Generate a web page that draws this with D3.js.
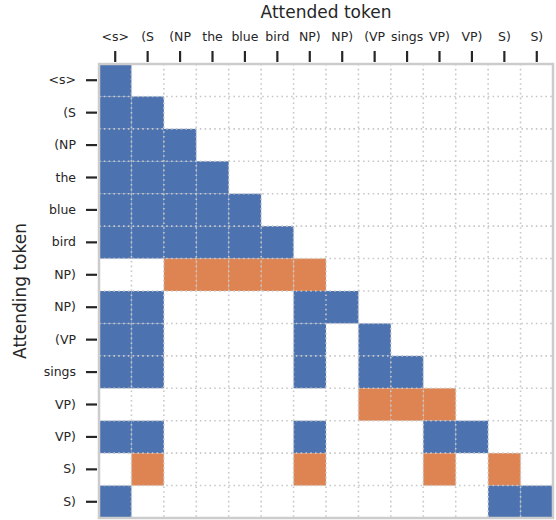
<!DOCTYPE html>
<html>
<head>
<meta charset="utf-8">
<script src="https://cdn.jsdelivr.net/npm/d3@7"></script>
<style>
  body { margin: 0; background: #fff; }
  text { font-family: "DejaVu Sans", sans-serif; }
</style>
</head>
<body>
<div id="chart"></div>
<script>
const tokens = ['<s>', '(S', '(NP', 'the', 'blue', 'bird', 'NP)', 'NP)', '(VP', 'sings', 'VP)', 'VP)', 'S)', 'S)'];

// 0 = none, 1 = blue (attend), 2 = orange (compose)
const attention = [
  [1,0,0,0,0,0,0,0,0,0,0,0,0,0],
  [1,1,0,0,0,0,0,0,0,0,0,0,0,0],
  [1,1,1,0,0,0,0,0,0,0,0,0,0,0],
  [1,1,1,1,0,0,0,0,0,0,0,0,0,0],
  [1,1,1,1,1,0,0,0,0,0,0,0,0,0],
  [1,1,1,1,1,1,0,0,0,0,0,0,0,0],
  [0,0,2,2,2,2,2,0,0,0,0,0,0,0],
  [1,1,0,0,0,0,1,1,0,0,0,0,0,0],
  [1,1,0,0,0,0,1,0,1,0,0,0,0,0],
  [1,1,0,0,0,0,1,0,1,1,0,0,0,0],
  [0,0,0,0,0,0,0,0,2,2,2,0,0,0],
  [1,1,0,0,0,0,1,0,0,0,1,1,0,0],
  [0,2,0,0,0,0,2,0,0,0,2,0,2,0],
  [1,0,0,0,0,0,0,0,0,0,0,0,1,1]
];

const colors = ['none', '#4c72b0', '#dd8452'];

const dimensions = {
  width: 556,
  height: 520,
  margin: { top: 64, right: 3, bottom: 2, left: 99 },
};
const innerW = dimensions.width - dimensions.margin.left - dimensions.margin.right;
const innerH = dimensions.height - dimensions.margin.top - dimensions.margin.bottom;

const idx = d3.range(tokens.length);
const x = d3.scaleBand().domain(idx).range([0, innerW]);
const y = d3.scaleBand().domain(idx).range([0, innerH]);

const svg = d3.select('#chart')
  .append('svg')
  .attr('width', dimensions.width)
  .attr('height', dimensions.height);

const g = svg.append('g')
  .attr('transform', `translate(${dimensions.margin.left}, ${dimensions.margin.top})`);

const cells = attention.flatMap((row, i) => row.map((v, j) => ({ i, j, v })))
  .filter(d => d.v > 0);

g.selectAll('rect.cell')
  .data(cells)
  .join('rect')
  .attr('class', 'cell')
  .attr('x', d => x(d.j))
  .attr('y', d => y(d.i))
  .attr('width', x.bandwidth())
  .attr('height', y.bandwidth())
  .attr('fill', d => colors[d.v]);

// dotted grid on cell boundaries
const grid = g.append('g')
  .attr('stroke', '#c8c8c8')
  .attr('stroke-width', 1.6)
  .attr('stroke-dasharray', '1.6,3.2');

grid.selectAll('line.v')
  .data(idx.slice(1))
  .join('line')
  .attr('x1', d => x(d)).attr('x2', d => x(d))
  .attr('y1', 0).attr('y2', innerH);

grid.selectAll('line.h')
  .data(idx.slice(1))
  .join('line')
  .attr('y1', d => y(d)).attr('y2', d => y(d))
  .attr('x1', 0).attr('x2', innerW);

// frame
g.append('rect')
  .attr('width', innerW)
  .attr('height', innerH)
  .attr('fill', 'none')
  .attr('stroke', '#cccccc')
  .attr('stroke-width', 2.5);

const xAxis = g.append('g')
  .attr('transform', 'translate(0, -2)')
  .call(d3.axisTop(x).tickFormat(i => tokens[i]).tickSize(11).tickPadding(10));

const yAxis = g.append('g')
  .attr('transform', 'translate(-2, 0)')
  .call(d3.axisLeft(y).tickFormat(i => tokens[i]).tickSize(11).tickPadding(10));

[xAxis, yAxis].forEach(ax => {
  ax.select('.domain').remove();
  ax.selectAll('.tick line').attr('stroke', '#262626').attr('stroke-width', 2.2);
  ax.selectAll('.tick text')
    .attr('fill', '#262626')
    .style('font-size', '12.5px')
    .style('font-family', '"DejaVu Sans", sans-serif');
});

svg.append('text')
  .attr('x', dimensions.margin.left + innerW / 2)
  .attr('y', 18)
  .attr('text-anchor', 'middle')
  .attr('fill', '#262626')
  .style('font-size', '17px')
  .text('Attended token');

svg.append('text')
  .attr('transform', `translate(26, ${dimensions.margin.top + innerH / 2}) rotate(-90)`)
  .attr('text-anchor', 'middle')
  .attr('fill', '#262626')
  .style('font-size', '17px')
  .text('Attending token');
</script>
</body>
</html>
